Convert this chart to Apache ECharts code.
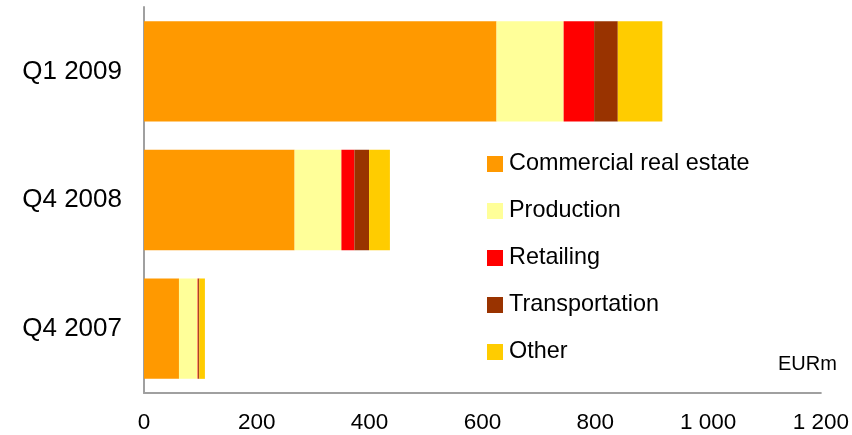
<!DOCTYPE html>
<html>
<head>
<meta charset="utf-8">
<script src="https://cdn.jsdelivr.net/npm/echarts@6/dist/echarts.min.js"></script>
<style>
  html, body { margin: 0; padding: 0; background: #fff; }
  #chart { width: 852px; height: 435px; }
</style>
</head>
<body>
<div id="chart"></div>
<script>
// categories, bottom to top
var categories = ['Q4 2007', 'Q4 2008', 'Q1 2009']
var seriesNames = ['Commercial real estate', 'Production', 'Retailing', 'Transportation', 'Other']
var commercial = [62, 267, 625]
var production = [33, 83, 119]
var retailing = [1, 23, 54]
var transportation = [2, 26, 42]
var other = [10, 37, 79]
var xTicks = [0, 200, 400, 600, 800, 1000, 1200]
var colors = ['#FF9900', '#FFFF99', '#FF0000', '#993300', '#FFCC00']

var values = [commercial, production, retailing, transportation, other]
var font = 'Liberation Sans, Arial, sans-serif'

var chart = echarts.init(document.getElementById('chart'))

var series = seriesNames.map(function (name, i) {
  return {
    name: name,
    type: 'bar',
    stack: 'total',
    data: values[i],
    barCategoryGap: '22%',
    itemStyle: { color: colors[i] },
    animation: false
  }
})

var options = {
  animation: false,
  color: colors,
  grid: { left: 144, right: 28, top: 7, bottom: 42 },
  legend: {
    orient: 'vertical',
    left: 487,
    top: 152,
    padding: 0,
    icon: 'rect',
    itemWidth: 16,
    itemHeight: 16,
    itemGap: 23,
    data: seriesNames,
    textStyle: { fontFamily: font, fontSize: 23.4, color: '#000', lineHeight: 24, padding: [0, 0, 0, 1] }
  },
  xAxis: {
    type: 'value',
    min: 0,
    max: 1200,
    interval: 200,
    axisLine: { show: true, lineStyle: { color: '#a0a0a0', width: 2 } },
    axisTick: { show: false },
    splitLine: { show: false },
    axisLabel: {
      fontFamily: font,
      fontSize: 22.5,
      color: '#000',
      margin: 18,
      formatter: function (v) {
        return xTicks.indexOf(v) >= 0 ? String(v).replace(/\B(?=(\d{3})+(?!\d))/g, ' ') : ''
      }
    }
  },
  yAxis: {
    type: 'category',
    data: categories,
    axisLine: { show: true, lineStyle: { color: '#a0a0a0', width: 2 } },
    axisTick: { show: false },
    axisLabel: { fontFamily: font, fontSize: 26, color: '#000', margin: 22 }
  },
  graphic: [{
    type: 'text',
    left: 778,
    top: 354,
    style: { text: 'EURm', font: '20px ' + font, fill: '#000' }
  }],
  series: series
}

chart.setOption(options)
window.addEventListener('resize', function () {
  chart.resize()
})
</script>
</body>
</html>
